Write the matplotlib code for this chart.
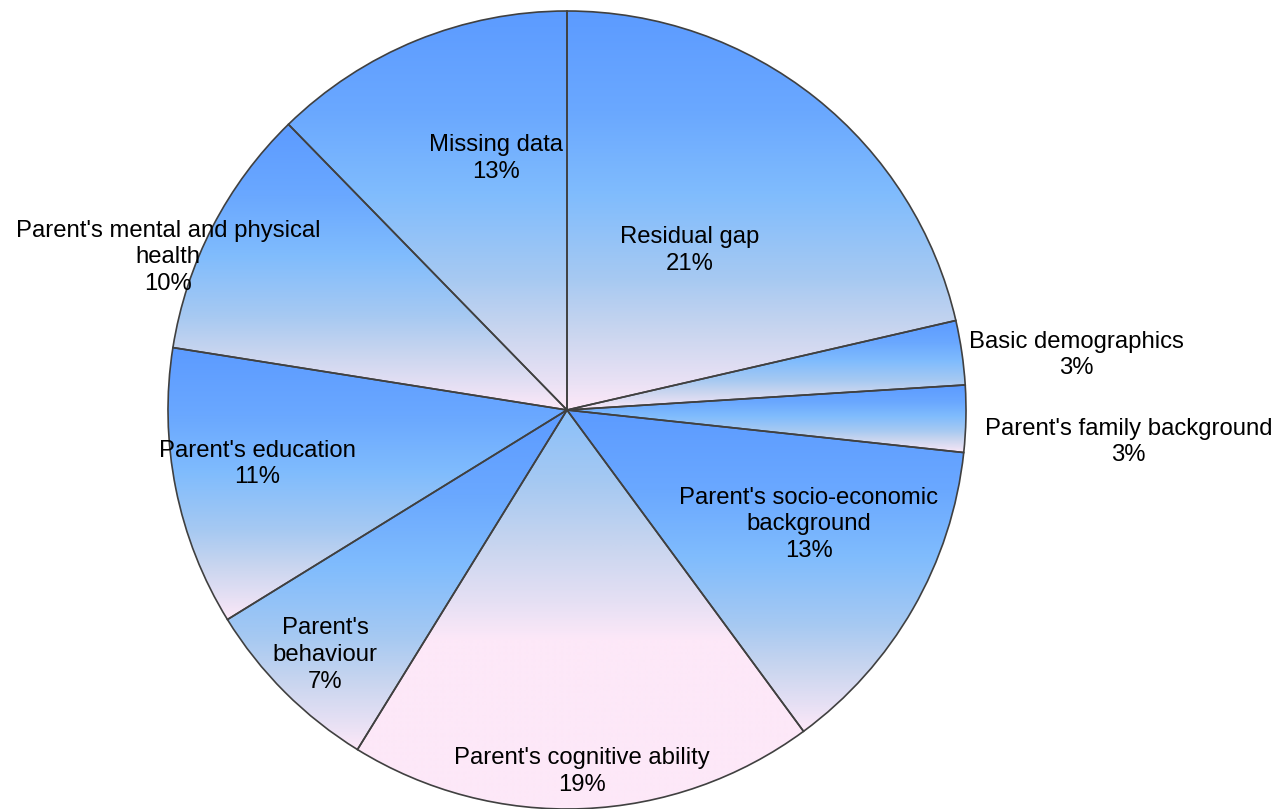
import numpy as np
import matplotlib
matplotlib.use("Agg")
import matplotlib.pyplot as plt
from matplotlib.colors import LinearSegmentedColormap

# ---- data ----
categories = ["Residual gap", "Basic demographics", "Parent's family background",
              "Parent's socio-economic\nbackground", "Parent's cognitive ability",
              "Parent's\nbehaviour", "Parent's education",
              "Parent's mental and physical\nhealth", "Missing data"]
shares = [21.4, 2.6, 2.7, 13.2, 18.9, 7.4, 11.3, 10.2, 12.3]
pct_labels = ["21%", "3%", "3%", "13%", "19%", "7%", "11%", "10%", "13%"]
# label centres, in units of the pie radius relative to pie centre
label_pos = [(0.308, 0.40), (1.276, 0.138), (1.408, -0.080), (0.606, -0.286),
             (0.038, -0.906), (-0.606, -0.614), (-0.777, -0.135),
             (-1.0, 0.383), (-0.178, 0.631)]
# gradient span overrides (top, bottom) in radius units; None = slice bounding box
grad_span = [None, None, None, None, (0.62, -0.58), None, None, None, None]

W, H = 1278, 809
cx, cy, R = 567, 410, 399

fig = plt.figure(figsize=(W / 100, H / 100), dpi=100)
ax = fig.add_axes([0, 0, 1, 1])

wedges, _ = ax.pie(shares, startangle=90, counterclock=False, radius=1,
                   wedgeprops=dict(edgecolor="#404040", linewidth=1.2, facecolor="none"))

cmap = LinearSegmentedColormap.from_list(
    "grad", [(0.0, "#5c9bff"), (0.25, "#6aa8ff"), (0.46, "#80bcfd"),
             (0.67, "#a6c9f2"), (0.80, "#c8d5ef"), (0.92, "#e6e0f4"),
             (1.0, "#fde8f8")])

for w, span in zip(wedges, grad_span):
    ext = w.get_path().get_extents()
    top, bot = (ext.y1, ext.y0) if span is None else span
    ys = np.linspace(ext.y1, ext.y0, 400)
    t = np.clip((top - ys) / (top - bot), 0, 1).reshape(-1, 1)
    im = ax.imshow(t, cmap=cmap, vmin=0, vmax=1, aspect="auto", origin="upper",
                   extent=[ext.x0, ext.x1, ext.y0, ext.y1], zorder=1,
                   interpolation="bilinear")
    im.set_clip_path(w)
    w.set_zorder(2)

for name, pct, (lx, ly) in zip(categories, pct_labels, label_pos):
    ax.text(lx, ly, f"{name}\n{pct}", ha="center", va="center", fontsize=17.2,
            family=["Liberation Sans", "DejaVu Sans"], linespacing=1.27,
            color="black", zorder=3)

ax.set_aspect("auto")
ax.set_xlim(-cx / R, (W - cx) / R)
ax.set_ylim(-(H - cy) / R, cy / R)
ax.axis("off")

fig.savefig("out.png", dpi=100)
